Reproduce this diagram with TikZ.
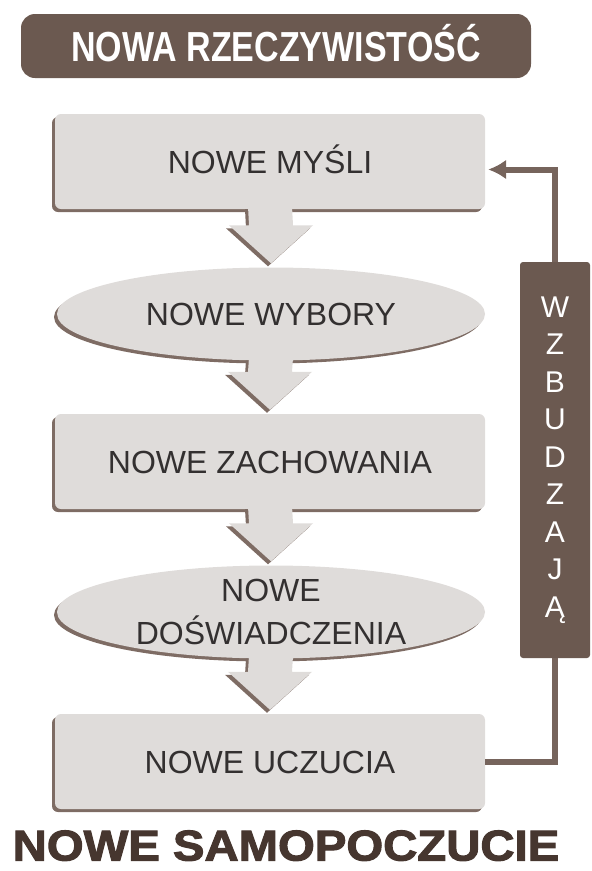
\documentclass[tikz,border=0pt]{standalone}
\usepackage{fontspec}
\setmainfont{Liberation Sans}
\newfontfamily\titlefont{Liberation Sans}[FakeStretch=0.81]
\newfontfamily\heavyfont{Liberation Sans Bold}[FakeStretch=1.1, FakeBold=2.5]
\usepackage{xcolor}
\usetikzlibrary{arrows.meta, calc, shapes.geometric, shadows}

\definecolor{ramka}{HTML}{6B5950}
\definecolor{cien}{HTML}{7E6C64}
\definecolor{tlo}{HTML}{DFDCDA}
\definecolor{napis}{HTML}{333030}
\definecolor{stopka}{HTML}{46362F}
\definecolor{petla}{HTML}{76645C}

\begin{document}
\begin{tikzpicture}[x=1pt, y=-1pt,
  stepbase/.style={fill=tlo, text=napis, inner sep=0pt,
    font=\fontsize{32}{43}\selectfont,
    drop shadow={shadow xshift=-3pt, shadow yshift=-3pt, fill=cien, opacity=1}},
  stepbox/.style={stepbase, rectangle, rounded corners=6pt,
    minimum width=430pt, minimum height=95pt, text height=23pt, text depth=0pt},
  stepoval/.style={stepbase, ellipse, minimum width=428pt, minimum height=93pt},
  darkbar/.style={fill=ramka, text=white, inner sep=0pt},
  backline/.style={draw=petla, line width=6pt}]

\useasboundingbox (0,0) rectangle (592,871);

%-- title bar
\node[darkbar, rounded corners=14pt, minimum width=510pt, minimum height=64pt,
      font=\titlefont\bfseries\fontsize{42}{50}\selectfont,
      text height=30pt, text depth=0pt] (tytul) at (276,46) {NOWA RZECZYWISTOŚĆ};

%-- steps
\node[stepbox]  (mysli)      at (270,161.5) {NOWE MYŚLI};
\node[stepoval, text height=23pt, text depth=0pt] (wybory) at (271,314) {NOWE WYBORY};
\node[stepbox]  (zachowania) at (270,461.5) {NOWE ZACHOWANIA};
\node[stepoval, align=center] (doswiadczenia) at (271,612) {NOWE\\DOŚWIADCZENIA};
\node[stepbox]  (uczucia)    at (270,761.5) {NOWE UCZUCIA};

%-- fat arrows between steps
\foreach \a/\b in {mysli/wybory, wybory/zachowania,
                   zachowania/doswiadczenia, doswiadczenia/uczucia}
  \foreach \d/\c in {-3pt/cien, 0pt/tlo}
    \fill[\c, transform canvas={shift={(\d,\d)}}]
      ($(\a.south)+(-22,-3)$) -- ($(\b.north)+(-22,-42)$)
      -- ($(\b.north)+(-42,-42)$) -- ($(\b.north)+(0,-4)$)
      -- ($(\b.north)+(42,-42)$) -- ($(\b.north)+(22,-42)$)
      -- ($(\a.south)+(22,-3)$) -- cycle;

%-- feedback bar
\node[darkbar, rounded corners=3pt, minimum width=70pt, minimum height=396pt,
      align=center, font=\fontsize{30}{37.5}\selectfont]
  (wzbudzaja) at (555,460) {W\\Z\\B\\U\\D\\Z\\A\\J\\Ą};

\coordinate (wejscie) at ($(mysli.east)+(3,8)$);
\draw[backline] (uczucia.east) -| (wzbudzaja.south);
\draw[backline, -{Latex[length=18pt, width=20pt]}] (wzbudzaja.north) |- (wejscie);

%-- footer
\node[text=stopka, font=\heavyfont\fontsize{43}{50}\selectfont,
      inner sep=0pt, text height=31pt, text depth=0pt]
  (samopoczucie) at (286,845) {NOWE SAMOPOCZUCIE};

\end{tikzpicture}
\end{document}
